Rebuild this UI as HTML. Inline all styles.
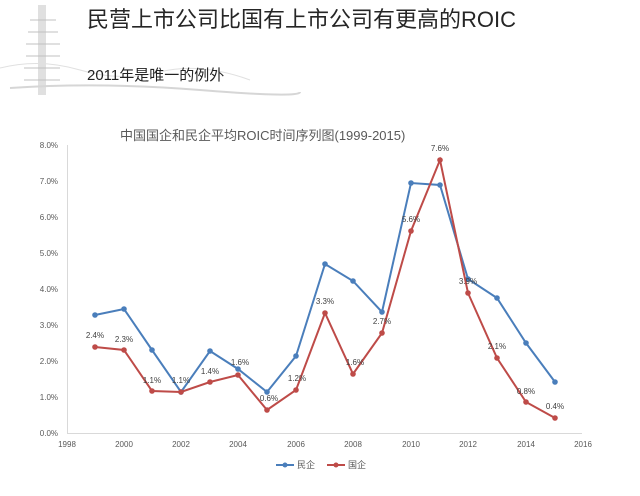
<!DOCTYPE html>
<html><head><meta charset="utf-8"><style>
body{margin:0;width:640px;height:491px;background:#fff;overflow:hidden;font-family:"Liberation Sans","Noto Sans CJK SC",sans-serif}
</style></head><body>
<svg width="640" height="491" xmlns="http://www.w3.org/2000/svg" font-family="Liberation Sans, Noto Sans CJK SC, sans-serif">
<g stroke="#aaa" fill="none" opacity="0.6">
<line x1="42" y1="5" x2="42" y2="95" stroke-width="8" stroke="#ccc"/>
<path d="M30 20h26M28 32h30M26 44h34M26 56h34M24 68h36M24 80h36" stroke="#999"/>
<path d="M0 68 Q40 58 80 70 T160 72 T250 80" stroke="#ccc"/>
<path d="M10 88 Q100 82 200 90 T300 92" stroke="#bbb" stroke-width="2"/>
</g>
<text x="87" y="27" font-size="22" fill="#262626">民营上市公司比国有上市公司有更高的ROIC</text>
<text x="87" y="80" font-size="15" fill="#222">2011年是唯一的例外</text>
<text x="120" y="140" font-size="13" fill="#595959">中国国企和民企平均ROIC时间序列图(1999-2015)</text>
<g stroke="#d9d9d9" stroke-width="1">
<line x1="67.5" y1="145" x2="67.5" y2="433"/>
<line x1="67" y1="433.5" x2="582" y2="433.5"/>
</g>
<g font-size="8" fill="#595959" text-anchor="end">
<text x="58" y="436">0.0%</text><text x="58" y="400">1.0%</text><text x="58" y="364">2.0%</text><text x="58" y="328">3.0%</text><text x="58" y="292">4.0%</text><text x="58" y="256">5.0%</text><text x="58" y="220">6.0%</text><text x="58" y="184">7.0%</text><text x="58" y="148">8.0%</text>
</g>
<g font-size="8" fill="#595959" text-anchor="middle">
<text x="67" y="447">1998</text><text x="124" y="447">2000</text><text x="181" y="447">2002</text><text x="238" y="447">2004</text><text x="296" y="447">2006</text><text x="353" y="447">2008</text><text x="411" y="447">2010</text><text x="468" y="447">2012</text><text x="526" y="447">2014</text><text x="583" y="447">2016</text>
</g>
<polyline fill="none" stroke="#4a7ebb" stroke-width="2" points="95,315 124,309 152,350 181,392 210,351 238,369 267,392 296,356 325,264 353,281 382,312 411,183 440,185 468,279 497,298 526,343 555,382"/>
<g fill="#4a7ebb">
<circle cx="95" cy="315" r="2.8"/><circle cx="124" cy="309" r="2.8"/><circle cx="152" cy="350" r="2.8"/><circle cx="181" cy="392" r="2.8"/><circle cx="210" cy="351" r="2.8"/><circle cx="238" cy="369" r="2.8"/><circle cx="267" cy="392" r="2.8"/><circle cx="296" cy="356" r="2.8"/><circle cx="325" cy="264" r="2.8"/><circle cx="353" cy="281" r="2.8"/><circle cx="382" cy="312" r="2.8"/><circle cx="411" cy="183" r="2.8"/><circle cx="440" cy="185" r="2.8"/><circle cx="468" cy="279" r="2.8"/><circle cx="497" cy="298" r="2.8"/><circle cx="526" cy="343" r="2.8"/><circle cx="555" cy="382" r="2.8"/>
</g>
<polyline fill="none" stroke="#be4b48" stroke-width="2" points="95,347 124,350 152,391 181,392 210,382 238,375 267,410 296,390 325,313 353,374 382,333 411,231 440,160 468,293 497,358 526,402 555,418"/>
<g fill="#be4b48">
<circle cx="95" cy="347" r="2.8"/><circle cx="124" cy="350" r="2.8"/><circle cx="152" cy="391" r="2.8"/><circle cx="181" cy="392" r="2.8"/><circle cx="210" cy="382" r="2.8"/><circle cx="238" cy="375" r="2.8"/><circle cx="267" cy="410" r="2.8"/><circle cx="296" cy="390" r="2.8"/><circle cx="325" cy="313" r="2.8"/><circle cx="353" cy="374" r="2.8"/><circle cx="382" cy="333" r="2.8"/><circle cx="411" cy="231" r="2.8"/><circle cx="440" cy="160" r="2.8"/><circle cx="468" cy="293" r="2.8"/><circle cx="497" cy="358" r="2.8"/><circle cx="526" cy="402" r="2.8"/><circle cx="555" cy="418" r="2.8"/>
</g>
<g font-size="8" fill="#404040" text-anchor="middle">
<text x="95" y="338">2.4%</text><text x="124" y="342">2.3%</text><text x="152" y="383">1.1%</text><text x="181" y="383">1.1%</text><text x="210" y="374">1.4%</text><text x="240" y="365">1.6%</text><text x="269" y="401">0.6%</text><text x="297" y="381">1.2%</text><text x="325" y="304">3.3%</text><text x="355" y="365">1.6%</text><text x="382" y="324">2.7%</text><text x="411" y="222">5.6%</text><text x="440" y="151">7.6%</text><text x="468" y="284">3.9%</text><text x="497" y="349">2.1%</text><text x="526" y="394">0.8%</text><text x="555" y="409">0.4%</text>
</g>
<g font-size="9" fill="#595959">
<line x1="276" y1="465" x2="294" y2="465" stroke="#4a7ebb" stroke-width="2"/><circle cx="285" cy="465" r="2.5" fill="#4a7ebb"/>
<text x="297" y="468">民企</text>
<line x1="327" y1="465" x2="345" y2="465" stroke="#be4b48" stroke-width="2"/><circle cx="336" cy="465" r="2.5" fill="#be4b48"/>
<text x="348" y="468">国企</text>
</g>
</svg>
</body></html>
